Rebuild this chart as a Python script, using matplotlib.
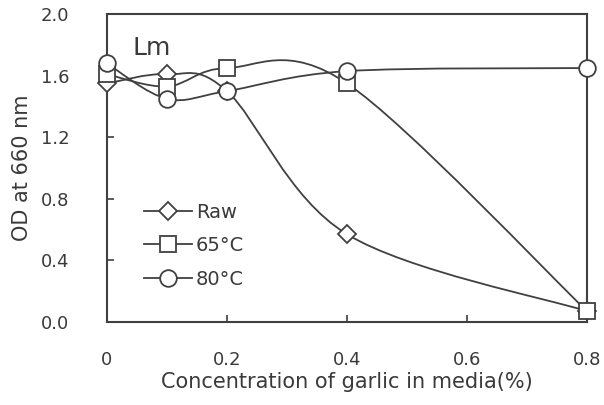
import numpy as np
import matplotlib
matplotlib.use('Agg')
from matplotlib import pyplot as plt
from matplotlib.path import Path
from matplotlib.patches import PathPatch

conc = [0, 0.1, 0.2, 0.4, 0.8]
raw = [1.55, 1.61, 1.50, 0.57, 0.07]
t65 = [1.61, 1.53, 1.65, 1.55, 0.07]
t80 = [1.68, 1.45, 1.50, 1.63, 1.65]

labels = ['Raw', '65\u00b0C', '80\u00b0C']
markers = ['D', 's', 'o']
msizes = [9, 11, 12]
lc = '#404040'
tc = '#3a3a3a'


def smooth_path(x, y):
    # excel style smoothed line: catmull-rom segments as cubic bezier
    pts = np.column_stack([x, y]).astype(float)
    n = len(pts)
    verts = [pts[0]]
    codes = [Path.MOVETO]
    for i in range(n - 1):
        p0 = pts[i - 1] if i > 0 else pts[i]
        p1 = pts[i]
        p2 = pts[i + 1]
        p3 = pts[i + 2] if i + 2 < n else pts[i + 1]
        c1 = p1 + (p2 - p0) / 6.0
        c2 = p2 - (p3 - p1) / 6.0
        verts += [c1, c2, p2]
        codes += [Path.CURVE4] * 3
    return Path(verts, codes)


fig = plt.figure(figsize=(6.04, 4.05), dpi=100)
ax = fig.add_axes([0.177, 0.205, 0.795, 0.76])

for ys, lab, m, ms in zip([raw, t65, t80], labels, markers, msizes):
    ax.add_patch(PathPatch(smooth_path(conc, ys), fill=False, ec=lc, lw=1.3, zorder=2))
    ax.plot(conc, ys, ls='none', marker=m, ms=ms, mfc='white', mec=lc, mew=1.3,
            zorder=3, clip_on=False)
    ax.plot([], [], color=lc, lw=1.3, marker=m, ms=ms, mfc='white', mec=lc, mew=1.3, label=lab)

ax.set_xlim(0, 0.8)
ax.set_ylim(0, 2.0)
ax.set_xticks([0, 0.2, 0.4, 0.6, 0.8])
ax.set_xticklabels(['0', '0.2', '0.4', '0.6', '0.8'])
ax.set_yticks([0, 0.4, 0.8, 1.2, 1.6, 2.0])
ax.set_yticklabels(['0.0', '0.4', '0.8', '1.2', '1.6', '2.0'])
ax.tick_params(direction='in', length=5, width=1.2, color=lc, labelsize=13, labelcolor=tc)
ax.tick_params(axis='x', pad=21)
ax.tick_params(axis='y', pad=27)
for s in ax.spines.values():
    s.set_color(lc)
    s.set_linewidth(1.5)

ax.set_xlabel('Concentration of garlic in media(%)', fontsize=15, color=tc, labelpad=2)
ax.set_ylabel('OD at 660 nm', fontsize=15, color=tc, labelpad=6)
ax.text(0.043, 1.78, 'Lm', fontsize=18, color=tc, va='center')

ax.legend(loc='upper left', bbox_to_anchor=(0.04, 0.445), frameon=False, fontsize=14,
          handlelength=2.5, handletextpad=0.2, labelspacing=0.75, labelcolor=tc)

fig.savefig('out.png', dpi=100)
